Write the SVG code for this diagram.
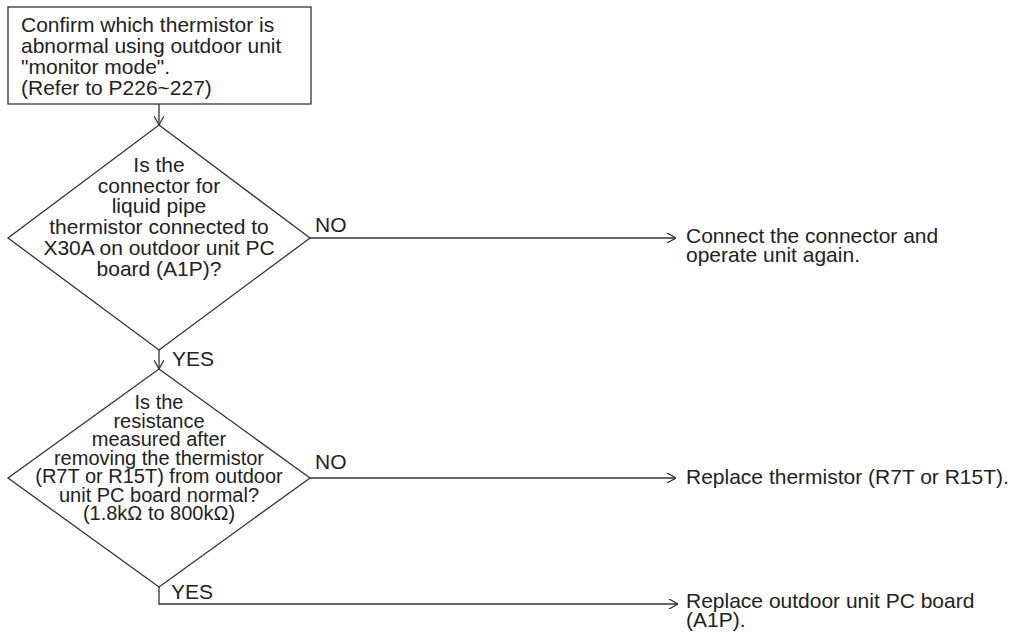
<svg xmlns="http://www.w3.org/2000/svg" width="1025" height="633" viewBox="0 0 1025 633">
<style>
.shape{fill:#fff;stroke:#333;stroke-width:1.3}
.conn{fill:none;stroke:#333;stroke-width:1.3}
text{font-family:"Liberation Sans",Arial,sans-serif;fill:#222;font-size:21px}
.c{text-anchor:middle}
.s{font-size:20px}
</style>
<defs>
<marker id="arr" viewBox="0 0 10 10" refX="10" refY="5" markerWidth="10" markerHeight="10" markerUnits="userSpaceOnUse" orient="auto">
<path d="M1,0 L10,5 L1,10" fill="none" stroke="#333" stroke-width="1.3"/>
</marker>
</defs>
<g id="start">
<rect class="shape" x="8" y="7" width="303" height="97"/>
<text x="21" y="32">Confirm which thermistor is</text>
<text x="21" y="53">abnormal using outdoor unit</text>
<text x="21" y="74">"monitor mode".</text>
<text x="21" y="95">(Refer to P226~227)</text>
</g>
<g id="decision1">
<polygon class="shape" points="159,125 310,238 159,350 8,238"/>
<text class="c" x="159" y="172">Is the</text>
<text class="c" x="159" y="193">connector for</text>
<text class="c" x="159" y="213">liquid pipe</text>
<text class="c" x="159" y="234">thermistor connected to</text>
<text class="c" x="159" y="255">X30A on outdoor unit PC</text>
<text class="c" x="159" y="276">board (A1P)?</text>
</g>
<g id="decision2">
<polygon class="shape" points="159,369 310,478 159,587 8,478"/>
<text class="c s" x="159" y="409">Is the</text>
<text class="c s" x="159" y="428">resistance</text>
<text class="c s" x="159" y="446">measured after</text>
<text class="c s" x="159" y="465">removing the thermistor</text>
<text class="c s" x="159" y="483">(R7T or R15T) from outdoor</text>
<text class="c s" x="159" y="502">unit PC board normal?</text>
<text class="c s" x="159" y="520">(1.8kΩ to 800kΩ)</text>
</g>
<g id="result1">
<text x="686" y="243">Connect the connector and</text>
<text x="686" y="262">operate unit again.</text>
</g>
<g id="result2">
<text x="686" y="484">Replace thermistor (R7T or R15T).</text>
</g>
<g id="result3">
<text x="686" y="608">Replace outdoor unit PC board</text>
<text x="686" y="627">(A1P).</text>
</g>
<g id="connectors">
<path class="conn" d="M159,104 V125" marker-end="url(#arr)"/>
<path class="conn" d="M159,350 V369" marker-end="url(#arr)"/>
<path class="conn" d="M310,238 H676" marker-end="url(#arr)"/>
<path class="conn" d="M310,478 H676" marker-end="url(#arr)"/>
<path class="conn" d="M159,587 V604 H678" marker-end="url(#arr)"/>
<text x="315" y="232">NO</text>
<text x="315" y="469">NO</text>
<text x="172" y="366">YES</text>
<text x="171" y="599">YES</text>
</g>
</svg>
